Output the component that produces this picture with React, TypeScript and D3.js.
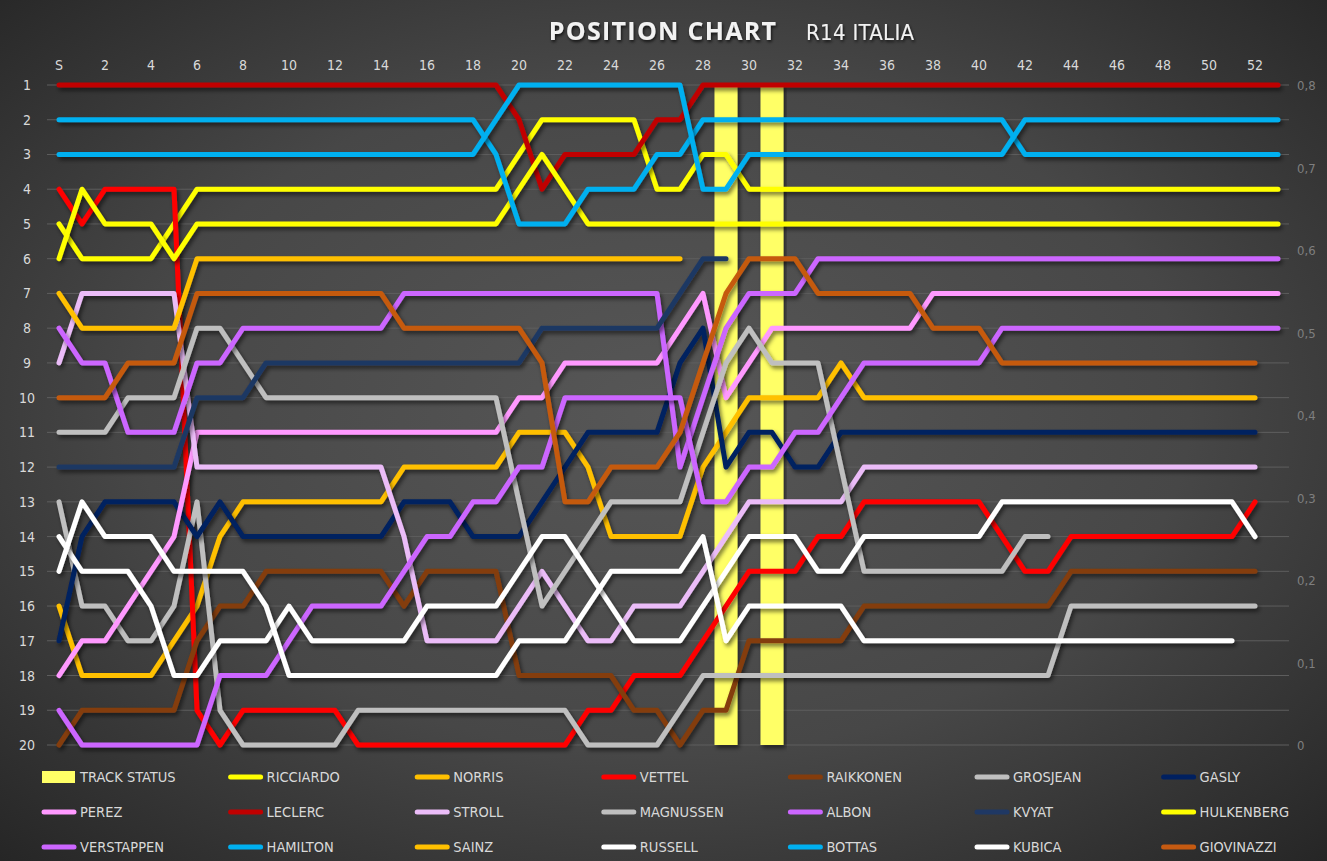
import React from 'react';
import * as d3 from 'd3';

const N = null;

// lap index 0 = start ("S"), 1..53 = laps
const LAP_TICKS = [0, 2, 4, 6, 8, 10, 12, 14, 16, 18, 20, 22, 24, 26, 28, 30, 32, 34, 36, 38, 40, 42, 44, 46, 48, 50, 52];
const LAP_LABELS = ['S', '2', '4', '6', '8', '10', '12', '14', '16', '18', '20', '22', '24', '26', '28', '30', '32', '34', '36', '38', '40', '42', '44', '46', '48', '50', '52'];
const POSITIONS = [1, 2, 3, 4, 5, 6, 7, 8, 9, 10, 11, 12, 13, 14, 15, 16, 17, 18, 19, 20];
const RIGHT_TICKS = [0, 0.1, 0.2, 0.3, 0.4, 0.5, 0.6, 0.7, 0.8];
const RIGHT_LABELS = ['0', '0,1', '0,2', '0,3', '0,4', '0,5', '0,6', '0,7', '0,8'];

const TRACK_STATUS = [N,N,N,N,N,N,N,N,N,N, N,N,N,N,N,N,N,N,N,N, N,N,N,N,N,N,N,N,N,0.8, N,0.8,N,N,N,N,N,N,N,N, N,N,N,N,N,N,N,N,N,N, N,N,N,N];

const RICCIARDO = [5,6,6,6,6,5,4,4,4,4, 4,4,4,4,4,4,4,4,4,4, 3,2,2,2,2,2,4,4,3,3, 4,4,4,4,4,4,4,4,4,4, 4,4,4,4,4,4,4,4,4,4, 4,4,4,4];
const NORRIS = [16,18,18,18,18,17,16,14,13,13, 13,13,13,13,13,12,12,12,12,12, 11,11,11,12,14,14,14,14,12,11, 10,10,10,10,9,10,10,10,10,10, 10,10,10,10,10,10,10,10,10,10, 10,10,10,N];
const VETTEL = [4,5,4,4,4,4,19,20,19,19, 19,19,19,20,20,20,20,20,20,20, 20,20,20,19,19,18,18,18,17,16, 15,15,15,14,14,13,13,13,13,13, 13,14,15,15,14,14,14,14,14,14, 14,14,13,N];
const RAIKKONEN = [20,19,19,19,19,19,17,16,16,15, 15,15,15,15,15,16,15,15,15,15, 18,18,18,18,18,19,19,20,19,19, 17,17,17,17,17,16,16,16,16,16, 16,16,16,16,15,15,15,15,15,15, 15,15,15,N];
const GROSJEAN = [13,16,16,17,17,16,13,19,20,20, 20,20,20,19,19,19,19,19,19,19, 19,19,19,20,20,20,20,19,18,18, 18,18,18,18,18,18,18,18,18,18, 18,18,18,18,16,16,16,16,16,16, 16,16,16,N];
const GASLY = [17,14,13,13,13,13,14,13,14,14, 14,14,14,14,14,13,13,13,14,14, 14,13,12,11,11,11,11,9,8,12, 11,11,12,12,11,11,11,11,11,11, 11,11,11,11,11,11,11,11,11,11, 11,11,11,N];
const PEREZ = [18,17,17,16,15,14,11,11,11,11, 11,11,11,11,11,11,11,11,11,11, 10,10,9,9,9,9,9,8,7,10, 9,8,8,8,8,8,8,8,7,7, 7,7,7,7,7,7,7,7,7,7, 7,7,7,7];
const LECLERC = [1,1,1,1,1,1,1,1,1,1, 1,1,1,1,1,1,1,1,1,1, 2,4,3,3,3,3,2,2,1,1, 1,1,1,1,1,1,1,1,1,1, 1,1,1,1,1,1,1,1,1,1, 1,1,1,1];
const STROLL = [9,7,7,7,7,7,12,12,12,12, 12,12,12,12,12,14,17,17,17,17, 16,15,16,17,17,16,16,16,15,14, 13,13,13,13,13,12,12,12,12,12, 12,12,12,12,12,12,12,12,12,12, 12,12,12,N];
const MAGNUSSEN = [11,11,11,10,10,10,8,8,9,10, 10,10,10,10,10,10,10,10,10,10, 13,16,15,14,13,13,13,13,11,9, 8,9,9,9,12,15,15,15,15,15, 15,15,14,14,N,N,N,N,N,N, N,N,N,N];
const ALBON = [8,9,9,11,11,11,9,9,8,8, 8,8,8,8,8,7,7,7,7,7, 7,7,7,7,7,7,7,12,10,8, 7,7,7,6,6,6,6,6,6,6, 6,6,6,6,6,6,6,6,6,6, 6,6,6,6];
const KVYAT = [12,12,12,12,12,12,10,10,10,9, 9,9,9,9,9,9,9,9,9,9, 9,8,8,8,8,8,8,7,6,6, N,N,N,N,N,N,N,N,N,N, N,N,N,N,N,N,N,N,N,N, N,N,N,N];
const HULKENBERG = [6,4,5,5,5,6,5,5,5,5, 5,5,5,5,5,5,5,5,5,5, 4,3,4,5,5,5,5,5,5,5, 5,5,5,5,5,5,5,5,5,5, 5,5,5,5,5,5,5,5,5,5, 5,5,5,5];
const VERSTAPPEN = [19,20,20,20,20,20,20,18,18,18, 17,16,16,16,16,15,14,14,13,13, 12,12,10,10,10,10,10,10,13,13, 12,12,11,11,10,9,9,9,9,9, 9,8,8,8,8,8,8,8,8,8, 8,8,8,8];
const HAMILTON = [2,2,2,2,2,2,2,2,2,2, 2,2,2,2,2,2,2,2,2,3, 5,5,5,4,4,4,3,3,2,2, 2,2,2,2,2,2,2,2,2,2, 2,2,3,3,3,3,3,3,3,3, 3,3,3,3];
const SAINZ = [7,8,8,8,8,8,6,6,6,6, 6,6,6,6,6,6,6,6,6,6, 6,6,6,6,6,6,6,6,N,N, N,N,N,N,N,N,N,N,N,N, N,N,N,N,N,N,N,N,N,N, N,N,N,N];
const RUSSELL = [14,15,15,15,16,18,18,17,17,17, 16,17,17,17,17,17,16,16,16,16, 15,14,14,15,16,17,17,17,16,15, 14,14,14,15,15,14,14,14,14,14, 14,13,13,13,13,13,13,13,13,13, 13,13,14,N];
const BOTTAS = [3,3,3,3,3,3,3,3,3,3, 3,3,3,3,3,3,3,3,3,2, 1,1,1,1,1,1,1,1,4,4, 3,3,3,3,3,3,3,3,3,3, 3,3,2,2,2,2,2,2,2,2, 2,2,2,2];
const KUBICA = [15,13,14,14,14,15,15,15,15,16, 18,18,18,18,18,18,18,18,18,18, 17,17,17,16,15,15,15,15,14,17, 16,16,16,16,16,17,17,17,17,17, 17,17,17,17,17,17,17,17,17,17, 17,17,N,N];
const GIOVINAZZI = [10,10,10,9,9,9,7,7,7,7, 7,7,7,7,7,8,8,8,8,8, 8,9,13,13,12,12,12,11,9,7, 6,6,6,7,7,7,7,7,8,8, 8,9,9,9,9,9,9,9,9,9, 9,9,9,N];

const SERIES_NAMES = ['RICCIARDO', 'NORRIS', 'VETTEL', 'RAIKKONEN', 'GROSJEAN', 'GASLY', 'PEREZ', 'LECLERC', 'STROLL', 'MAGNUSSEN', 'ALBON', 'KVYAT', 'HULKENBERG', 'VERSTAPPEN', 'HAMILTON', 'SAINZ', 'RUSSELL', 'BOTTAS', 'KUBICA', 'GIOVINAZZI'];
const SERIES_DATA = [RICCIARDO, NORRIS, VETTEL, RAIKKONEN, GROSJEAN, GASLY, PEREZ, LECLERC, STROLL, MAGNUSSEN, ALBON, KVYAT, HULKENBERG, VERSTAPPEN, HAMILTON, SAINZ, RUSSELL, BOTTAS, KUBICA, GIOVINAZZI];
const SERIES_COLORS = ['#ffff00', '#ffc000', '#ff0000', '#843c0c', '#bfbfbf', '#002060', '#ff99ff', '#c00000', '#ebbcf8', '#bfbfbf', '#cc66ff', '#1f3864', '#ffff00', '#cc66ff', '#00b0f0', '#ffc000', '#ffffff', '#00b0f0', '#ffffff', '#c55a11'];

const W = 1327;
const H = 861;
const NARROW = '"Liberation Sans Narrow", "DejaVu Sans Condensed", "Roboto Condensed", Roboto, sans-serif';

export default function App() {
  const x = d3.scaleLinear().domain([0, 53]).range([59, 1278]);
  const y = d3.scaleLinear().domain([1, 20]).range([85, 745]);
  const yR = d3.scaleLinear().domain([0, 0.8]).range([745, 85]);

  const line = d3
    .line<number | null>()
    .defined((d) => d != null)
    .x((_, i) => x(i))
    .y((d) => y(d as number));

  const legendItems = ['TRACK STATUS', ...SERIES_NAMES];
  const legendColors = ['#ffff66', ...SERIES_COLORS];

  return (
    <svg width={W} height={H} style={{ position: 'absolute', left: 0, top: 0, display: 'block' }}>
      <defs>
        <radialGradient id="bg" cx="50%" cy="48%" r="72%">
          <stop offset="0%" stopColor="#575757" />
          <stop offset="55%" stopColor="#474747" />
          <stop offset="100%" stopColor="#262626" />
        </radialGradient>
        <filter id="sh" x="-5%" y="-5%" width="110%" height="115%">
          <feDropShadow dx="2" dy="3" stdDeviation="2" floodColor="#000" floodOpacity="0.55" />
        </filter>
        <filter id="tsh" x="-5%" y="-20%" width="110%" height="150%">
          <feDropShadow dx="1" dy="2" stdDeviation="1.5" floodColor="#000" floodOpacity="0.7" />
        </filter>
      </defs>
      <rect x={0} y={0} width={W} height={H} fill="url(#bg)" />

      {/* title */}
      <g filter="url(#tsh)">
        <text x={663} y={40} textAnchor="middle" fill="#f2f2f2" fontFamily='"Open Sans", sans-serif' fontWeight={700} fontSize={25} letterSpacing={1.3}>
          POSITION CHART
        </text>
        <text x={806} y={40} fill="#f2f2f2" fontFamily={NARROW} fontSize={22} letterSpacing={0.3}>
          R14 ITALIA
        </text>
      </g>

      {/* gridlines */}
      {POSITIONS.map((p) => (
        <line key={'g' + p} x1={47} x2={1289} y1={y(p)} y2={y(p)} stroke="#5e5e5e" strokeWidth={1} />
      ))}

      {/* left axis labels */}
      {POSITIONS.map((p) => (
        <text key={'l' + p} x={27} y={y(p) + 5} textAnchor="middle" fill="#d9d9d9" fontFamily={NARROW} fontSize={14}>
          {p}
        </text>
      ))}

      {/* right axis labels */}
      {RIGHT_TICKS.map((v, i) => (
        <text key={'r' + i} x={1297} y={yR(v) + 5} textAnchor="start" fill="#7f7f7f" fontFamily={NARROW} fontSize={13}>
          {RIGHT_LABELS[i]}
        </text>
      ))}

      {/* top axis labels */}
      {LAP_TICKS.map((l, i) => (
        <text key={'t' + i} x={x(l)} y={70} textAnchor="middle" fill="#d9d9d9" fontFamily={NARROW} fontSize={14}>
          {LAP_LABELS[i]}
        </text>
      ))}

      {/* track status bars */}
      <g filter="url(#sh)">
        {TRACK_STATUS.map((v, i) =>
          v ? (
            <rect key={'b' + i} x={x(i) - 11.5} y={yR(v)} width={23} height={yR(0) - yR(v)} fill="#ffff66" />
          ) : null
        )}
      </g>

      {/* position lines */}
      {SERIES_DATA.map((data, si) => (
        <path
          key={SERIES_NAMES[si]}
          d={line(data) || ''}
          fill="none"
          stroke={SERIES_COLORS[si]}
          strokeWidth={5}
          strokeLinejoin="round"
          strokeLinecap="round"
          filter="url(#sh)"
        />
      ))}

      {/* legend */}
      {legendItems.map((name, i) => {
        const row = Math.floor(i / 7);
        const col = i % 7;
        const tx = 80 + col * 186.6;
        const ty = 777 + row * 35;
        return (
          <g key={'lg' + i}>
            {i === 0 ? (
              <rect x={tx - 38} y={ty - 6} width={33} height={12} fill={legendColors[i]} />
            ) : (
              <line x1={tx - 36} x2={tx - 6} y1={ty} y2={ty} stroke={legendColors[i]} strokeWidth={5} strokeLinecap="round" />
            )}
            <text x={tx} y={ty + 5} fill="#d9d9d9" fontFamily={NARROW} fontSize={14.5}>
              {name}
            </text>
          </g>
        );
      })}
    </svg>
  );
}
